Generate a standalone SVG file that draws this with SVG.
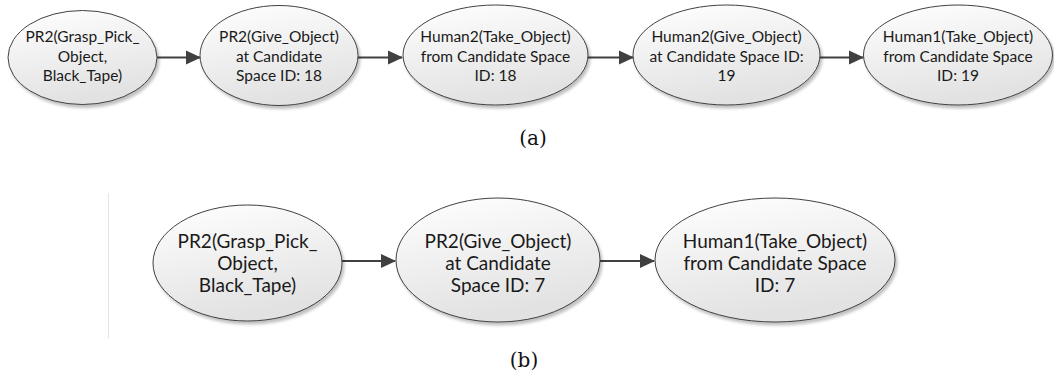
<svg xmlns="http://www.w3.org/2000/svg" width="1054" height="378" viewBox="0 0 1054 378">
<defs>
<linearGradient id="g" x1="0" y1="0" x2="0.3" y2="1">
<stop offset="0" stop-color="#ffffff"/>
<stop offset="1" stop-color="#e2e2e2"/>
</linearGradient>
<filter id="sh" x="-10%" y="-10%" width="125%" height="130%">
<feGaussianBlur in="SourceAlpha" stdDeviation="1.5"/>
<feOffset dx="1.5" dy="2.5" result="b"/>
<feComponentTransfer><feFuncA type="linear" slope="0.25"/></feComponentTransfer>
<feMerge><feMergeNode/><feMergeNode in="SourceGraphic"/></feMerge>
</filter>
<marker id="ah" markerWidth="15" markerHeight="15" refX="14" refY="7.5" orient="auto" markerUnits="userSpaceOnUse">
<path d="M0,0.5 L15,7.5 L0,14.5 Z" fill="#404040"/>
</marker>
</defs>
<style>
.n ellipse{fill:url(#g);stroke:#404040;stroke-width:1;filter:url(#sh)}
.t{font-family:Lato,"Liberation Sans",sans-serif;fill:#1a1a1a;text-anchor:middle}
.s{font-size:15.5px}
.l{font-size:19px}
.c line{stroke:#404040;stroke-width:2;marker-end:url(#ah)}
.cap{font-family:"DejaVu Serif","Liberation Serif",serif;font-size:20px;fill:#111;text-anchor:middle}
</style>
<line x1="108.5" y1="193" x2="108.5" y2="338" stroke="#e3e3e3" stroke-width="1"/>
<g class="c" id="connectors">
<line x1="157" y1="57.5" x2="200" y2="57.5"/>
<line x1="358" y1="57.5" x2="402" y2="57.5"/>
<line x1="588" y1="57.5" x2="633" y2="57.5"/>
<line x1="820" y1="57.5" x2="863" y2="57.5"/>
<line x1="342" y1="261" x2="395" y2="261"/>
<line x1="600" y1="261" x2="654" y2="261"/>
</g>
<g class="n" id="a1"><ellipse cx="82.5" cy="57.5" rx="74.5" ry="47"/>
<text class="t s"><tspan x="82.5" y="42">PR2(Grasp_Pick_</tspan><tspan x="82.5" y="61.5">Object,</tspan><tspan x="82.5" y="81">Black_Tape)</tspan></text></g>
<g class="n" id="a2"><ellipse cx="279" cy="55.5" rx="79" ry="50"/>
<text class="t s"><tspan x="279" y="42">PR2(Give_Object)</tspan><tspan x="279" y="61.5">at Candidate</tspan><tspan x="279" y="81">Space ID: 18</tspan></text></g>
<g class="n" id="a3"><ellipse cx="495.5" cy="55" rx="92.5" ry="50"/>
<text class="t s"><tspan x="495.5" y="42">Human2(Take_Object)</tspan><tspan x="495.5" y="61.5">from Candidate Space</tspan><tspan x="495.5" y="81">ID: 18</tspan></text></g>
<g class="n" id="a4"><ellipse cx="726.5" cy="55" rx="93.5" ry="50"/>
<text class="t s"><tspan x="726.5" y="42">Human2(Give_Object)</tspan><tspan x="726.5" y="61.5">at Candidate Space ID:</tspan><tspan x="726.5" y="81">19</tspan></text></g>
<g class="n" id="a5"><ellipse cx="958" cy="55" rx="94.5" ry="50"/>
<text class="t s"><tspan x="958" y="42">Human1(Take_Object)</tspan><tspan x="958" y="61.5">from Candidate Space</tspan><tspan x="958" y="81">ID: 19</tspan></text></g>
<text class="cap" x="533" y="145">(a)</text>
<g class="n" id="b1"><ellipse cx="247.5" cy="263" rx="94.5" ry="58"/>
<text class="t l"><tspan x="247.5" y="248">PR2(Grasp_Pick_</tspan><tspan x="247.5" y="270">Object,</tspan><tspan x="247.5" y="292">Black_Tape)</tspan></text></g>
<g class="n" id="b2"><ellipse cx="498" cy="260" rx="102" ry="62"/>
<text class="t l"><tspan x="498" y="248">PR2(Give_Object)</tspan><tspan x="498" y="270">at Candidate</tspan><tspan x="498" y="292">Space ID: 7</tspan></text></g>
<g class="n" id="b3"><ellipse cx="775" cy="260" rx="120" ry="62"/>
<text class="t l"><tspan x="775" y="248">Human1(Take_Object)</tspan><tspan x="775" y="270">from Candidate Space</tspan><tspan x="775" y="292">ID: 7</tspan></text></g>
<text class="cap" x="524" y="367">(b)</text>
</svg>
